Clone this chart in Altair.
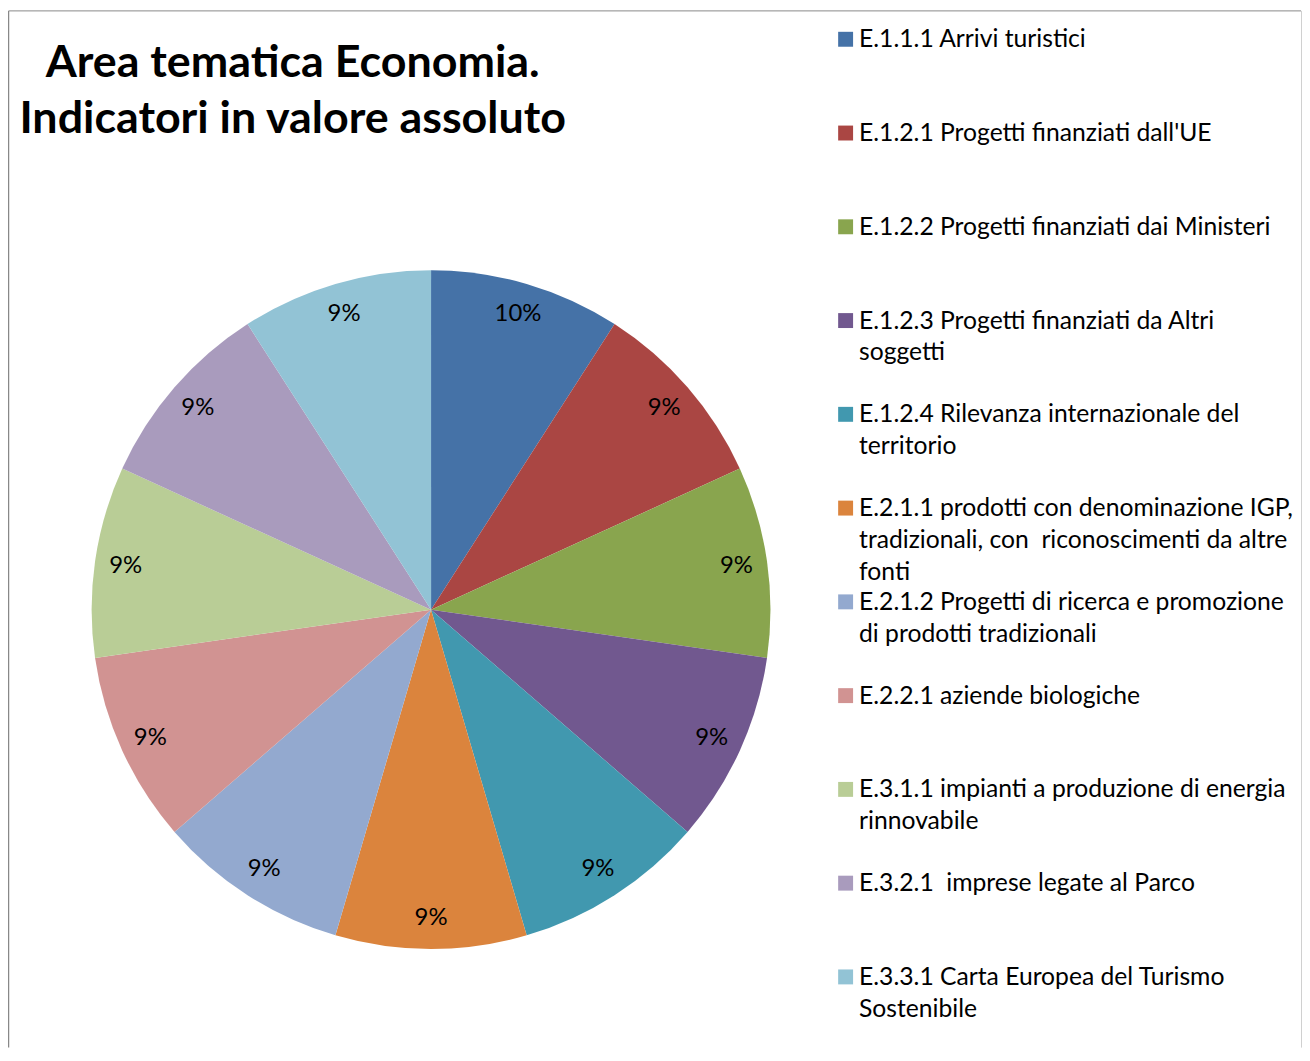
import altair as alt
import pandas as pd

# ---- data ----
categories = [
    "E.1.1.1 Arrivi turistici",
    "E.1.2.1 Progetti finanziati dall'UE",
    "E.1.2.2 Progetti finanziati dai Ministeri",
    "E.1.2.3 Progetti finanziati da Altri soggetti",
    "E.1.2.4 Rilevanza internazionale del territorio",
    "E.2.1.1 prodotti con denominazione IGP, tradizionali, con riconoscimenti da altre fonti",
    "E.2.1.2 Progetti di ricerca e promozione di prodotti tradizionali",
    "E.2.2.1 aziende biologiche",
    "E.3.1.1 impianti a produzione di energia rinnovabile",
    "E.3.2.1 imprese legate al Parco",
    "E.3.3.1 Carta Europea del Turismo Sostenibile",
]
legend_lines = [
    ["E.1.1.1 Arrivi turistici"],
    ["E.1.2.1 Progetti finanziati dall'UE"],
    ["E.1.2.2 Progetti finanziati dai Ministeri"],
    ["E.1.2.3 Progetti finanziati da Altri", "soggetti"],
    ["E.1.2.4 Rilevanza internazionale del", "territorio"],
    ["E.2.1.1 prodotti con denominazione IGP,",
     "tradizionali, con \u00a0riconoscimenti da altre", "fonti"],
    ["E.2.1.2 Progetti di ricerca e promozione", "di prodotti tradizionali"],
    ["E.2.2.1 aziende biologiche"],
    ["E.3.1.1 impianti a produzione di energia", "rinnovabile"],
    ["E.3.2.1 \u00a0imprese legate al Parco"],
    ["E.3.3.1 Carta Europea del Turismo", "Sostenibile"],
]
values = [9.1, 9.1, 9.1, 9.1, 9.1, 9.1, 9.1, 9.1, 9.1, 9.1, 9.1]
pct_labels = ["10%", "9%", "9%", "9%", "9%", "9%", "9%", "9%", "9%", "9%", "9%"]
colors = ["#4572A7", "#AA4643", "#89A54E", "#71588F", "#4198AF", "#DB843D",
          "#93A9CF", "#D19392", "#B9CD96", "#A99BBD", "#92C3D5"]
title_lines = ["Area tematica Economia.", "Indicatori in valore assoluto"]

df = pd.DataFrame({
    "cat": categories,
    "value": values,
    "pct": pct_labels,
    "idx": list(range(len(categories))),
    "label": ["\n".join(l) for l in legend_lines],
})

FONT = "Lato"
CX, CY, R = 425, 602, 341
W, H = 1300, 1042
BORDER = "#888888"

base = alt.Chart(df)
color = alt.Color("cat:N", scale=alt.Scale(domain=categories, range=colors), legend=None)
theta = alt.Theta("value:Q", stack=True)
order = alt.Order("idx:Q")

pie = base.mark_arc(outerRadius=R).encode(
    theta=theta, color=color, order=order,
    x=alt.value(CX), y=alt.value(CY),
)
pie_lbl = base.mark_text(radius=310, font=FONT, fontSize=24, color="black").encode(
    theta=theta, order=order, text="pct:N",
    x=alt.value(CX), y=alt.value(CY),
)

ly = alt.Y("cat:N", scale=alt.Scale(type="point", domain=categories, range=[29, 971], padding=0), axis=None)
sq = base.mark_square(size=225, opacity=1).encode(x=alt.value(841.5), y=ly, color=color)
lt = base.transform_calculate(lines="split(datum.label, '\\n')").mark_text(
    align="left", baseline="alphabetic", dy=8, lineHeight=32,
    font=FONT, fontSize=24.8, color="black",
).encode(x=alt.value(855), y=ly, text="lines:N")

one = pd.DataFrame({"k": [0]})
title = alt.Chart(one).mark_text(
    text=title_lines, align="center", baseline="middle", lineHeight=56,
    font=FONT, fontSize=45, fontWeight="bold", color="black",
).encode(x=alt.value(286), y=alt.value(53))

# frame (top, left, right; bottom edge lies outside the window in the reference)
frame_top = alt.Chart(one).mark_rule(color=BORDER, strokeWidth=1).encode(
    x=alt.value(0.5), x2=alt.value(W - 1), y=alt.value(0.5))
frame_left = alt.Chart(one).mark_rule(color=BORDER, strokeWidth=1.5).encode(
    x=alt.value(0.5), y=alt.value(0.5), y2=alt.value(H))
frame_right = alt.Chart(one).mark_rule(color="#d0d0d0", strokeWidth=1).encode(
    x=alt.value(W - 0.5), y=alt.value(0.5), y2=alt.value(H))

chart = alt.layer(frame_top, frame_left, frame_right, pie, pie_lbl, sq, lt, title).properties(
    width=W, height=H, autosize="none",
    padding={"left": 0, "top": 0, "right": 0, "bottom": 0},
).configure_view(strokeWidth=0)

chart.save("out.html", embed_options={"renderer": "svg", "actions": False})
